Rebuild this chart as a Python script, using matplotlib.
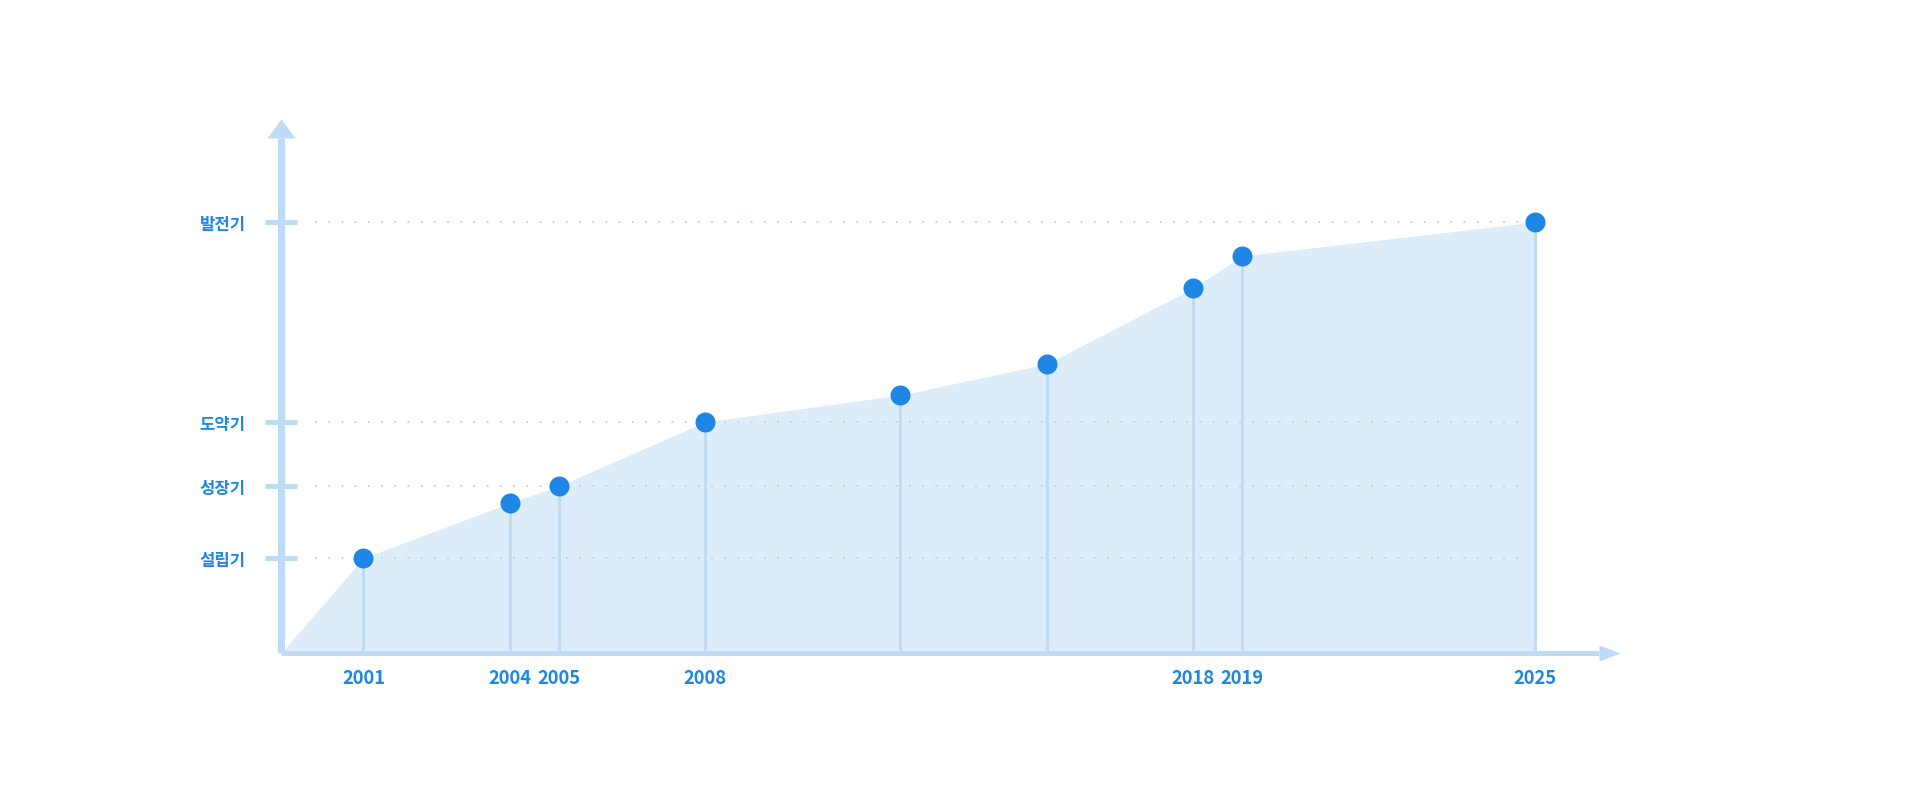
import matplotlib
matplotlib.use("Agg")
import matplotlib.pyplot as plt

plt.rcParams['font.family'] = ['Noto Sans CJK KR', 'DejaVu Sans']

# ---- data ----
years = [2001, 2004, 2005, 2008, 2012, 2015, 2018, 2019, 2025]
year_labels = ['2001', '2004', '2005', '2008', '', '', '2018', '2019', '2025']
values = [95, 150, 167, 231, 258, 289, 365, 397, 431]
stage_names = ['설립기', '성장기', '도약기', '발전기']
stage_levels = [95, 167, 231, 431]

# ---- style ----
W, H, DPI = 1920, 803, 100
PX = 72.0 / DPI  # points per pixel
blue = '#1e87e5'
axis_c = '#bddbf5'
stem_c = '#c0dbf3'
fill_c = '#ddecf9'
grid_c = '#c3d8ee'

fig = plt.figure(figsize=(W / DPI, H / DPI), dpi=DPI)
left_px, right_px, top_px, base_px = 281, 1599, 139, 654
ax = fig.add_axes([left_px / W, (H - base_px) / H,
                   (right_px - left_px) / W, (base_px - top_px) / H])

px_per_year = 48.81
x0 = 1999.31
x1 = x0 + (right_px - left_px) / px_per_year
ax.set_xlim(x0, x1)
ax.set_ylim(0, base_px - top_px)

# area fill starting at the axes origin
ax.fill_between([x0] + years, [0] + values, 0, color=fill_c, lw=0, zorder=1)

# dotted guide lines
gx0 = x0 + (315 - left_px) / px_per_year
gx1 = x0 + (1528 - left_px) / px_per_year
for lv in stage_levels:
    ax.plot([gx0, gx1], [lv, lv], color=grid_c, lw=2 * PX,
            linestyle=(0, (1, 5.6)), dash_capstyle='butt', zorder=2)

# stems
ax.vlines(years, 0, values, color=stem_c, lw=3 * PX, zorder=3)

# points
ax.scatter(years, values, s=(20 * PX) ** 2, color=blue, zorder=6,
           linewidths=0, clip_on=False)

# axes / spines
for s in ['top', 'right']:
    ax.spines[s].set_visible(False)
ax.spines['left'].set_color(axis_c)
ax.spines['left'].set_linewidth(7 * PX)
ax.spines['bottom'].set_color(axis_c)
ax.spines['bottom'].set_linewidth(5 * PX)
ax.spines['left'].set_zorder(4)
ax.spines['bottom'].set_zorder(4)
ax.spines['left'].set_capstyle('butt')
ax.spines['bottom'].set_capstyle('butt')
ax.patch.set_alpha(0)

# arrow heads
up = [(0, 19), (-14, 0), (14, 0)]
ax.plot([x0], [base_px - top_px], marker=up, markersize=38 * PX,
        color=axis_c, markeredgewidth=0, clip_on=False, zorder=4)
rt = [(21, 0), (0, 8), (0, -8)]
ax.plot([x1], [0], marker=rt, markersize=42 * PX,
        color=axis_c, markeredgewidth=0, clip_on=False, zorder=4)

# y ticks (stage names)
ax.set_yticks(stage_levels)
ax.set_yticklabels(stage_names)
ax.tick_params(axis='y', direction='inout', length=32 * PX, width=5 * PX,
               color=axis_c, pad=13.7, labelcolor=blue)
for t in ax.get_yticklabels():
    t.set_fontweight('bold')
    t.set_fontsize(12)

# x ticks (years)
ax.set_xticks(years)
ax.set_xticklabels(year_labels)
ax.tick_params(axis='x', length=0, pad=10.5, labelcolor=blue)
for t in ax.get_xticklabels():
    t.set_fontsize(13.2)
    t.set_fontweight('semibold')

fig.savefig('out.png', dpi=DPI, facecolor='white')
